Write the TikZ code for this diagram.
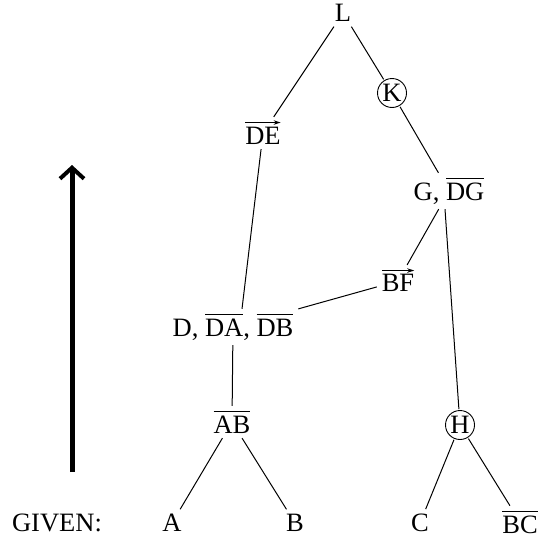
\documentclass[tikz,border=0pt]{standalone}
\usepackage{fontspec}
\setmainfont{Liberation Serif}
\usetikzlibrary{arrows.meta,calc}
\newcommand{\ol}[1]{\leavevmode\vbox{\hrule height 1.2pt\kern 3.5pt\hbox{#1}}}
\newcommand{\vr}[1]{\leavevmode\vbox{\kern 4.7pt\hbox{#1}}}
\begin{document}
\begin{tikzpicture}[x=1pt,y=-1pt,
  lbl/.style={font=\fontsize{26.5}{30}\selectfont, inner sep=2pt, outer sep=3pt},
  circ/.style={lbl, circle, draw, line width=0.9pt, minimum size=29pt, inner sep=0pt, outer sep=1.5pt},
  edge/.style={line width=1pt},
  vec/.style={line width=1.2pt, -{Stealth[length=7pt,width=4.5pt]}}]
\useasboundingbox (0,0) rectangle (539,541);
\node[lbl] (L) at (343,13) {L};
\node[circ] (K) at (392,93) {K};
\node[lbl] (DE) at (263,133) {\vr{DE}};
\node[lbl] (G) at (449,191) {G, \ol{DG}};
\node[lbl] (BF) at (398,281) {\vr{BF}};
\node[lbl] (DD) at (233,327) {D, \ol{DA}, \ol{DB}};
\node[lbl] (AB) at (232,422) {\ol{AB}};
\node[circ] (H) at (460,425) {H};
\node[lbl] (GIV) at (57,523) {GIVEN:};
\node[lbl] (A) at (172,523) {A};
\node[lbl] (B) at (295,523) {B};
\node[lbl] (C) at (420,523) {C};
\node[lbl] (BC) at (520,522) {\ol{BC}};
\coordinate (arrB) at (72,472);
\coordinate (arrT) at (72,165);
\draw[vec] ($(DE.north west)+(5,5.6)$) -- ($(DE.north east)+(-5,5.6)$);
\draw[vec] ($(BF.north west)+(5,5.6)$) -- ($(BF.north east)+(-5,5.6)$);
\draw[edge] (L) -- (DE);
\draw[edge] (L) -- (K);
\draw[edge] (K) -- (G);
\draw[edge] (DE) -- ($(DD.north)+(9,0)$);
\draw[edge] (G) -- (BF);
\draw[edge] ($(G.south)+(-4,0)$) -- (H);
\draw[edge] (BF) -- (DD.north east);
\draw[edge] (DD) -- (AB);
\draw[edge] (AB) -- (A);
\draw[edge] (AB) -- (B);
\draw[edge] (H) -- (C);
\draw[edge] (H) -- (BC);
\draw[line width=5pt, -{Straight Barb[length=11pt,width=24pt,line width=4pt]}] (arrB) -- (arrT);
\end{tikzpicture}
\end{document}
